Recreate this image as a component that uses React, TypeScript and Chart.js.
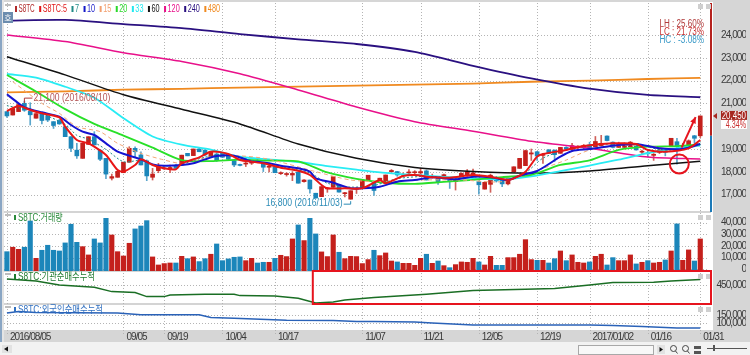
import React, { useEffect, useRef } from "react";
import { Chart, registerables } from "chart.js";

Chart.register(...registerables);

const tickIndex = [0, 20, 27, 37, 46, 61, 71, 81, 91, 100, 110, 119];
const tickText = ["2016/08/05", "09/05", "09/19", "10/04", "10/17", "11/07", "11/21", "12/05", "12/19", "2017/01/02", "01/16", "01/31"];

const candleOpen = [20640,20490,20640,21000,20650,20350,20600,20450,20200,20250,19980,19540,18950,18590,19200,19540,18950,18590,17720,17760,17960,18420,19030,18740,18480,17760,18050,18130,18110,18270,18300,18810,18710,19000,18950,18660,18780,18810,18690,18490,18310,18340,18380,18510,18340,18200,18220,17920,17880,17860,17980,17570,17640,17060,16910,17250,17320,17430,17040,16800,17240,17320,17640,17530,17530,17540,18000,18010,17850,17950,17960,17950,18040,17760,17790,17830,17640,17570,17790,17860,17800,17570,17240,17450,17740,17640,17470,18000,18150,18270,18780,18880,18720,18960,18950,18810,19070,18990,19080,19060,19180,19100,19150,19570,19300,19070,19070,19100,19180,18860,18830,18720,18850,18950,19100,19320,19000,19100,19580,19580];
const candleHigh = [20640,20800,21000,21100,21030,20550,20600,20500,20200,20300,20000,19540,19250,19250,19540,19760,18950,18590,17900,18020,18420,19100,19100,18880,18520,18150,18370,18200,18300,18300,18730,18810,19000,19030,18980,18900,18830,18830,18720,18500,18340,18500,18500,18560,18340,18300,18240,18000,17960,18010,18000,17660,17640,17060,17350,17320,17790,17450,17100,17170,17300,17640,17850,17530,17720,17860,18100,18020,17950,18100,18050,18150,18080,17900,17800,17900,17660,17680,17960,18100,18120,17600,17560,17900,17800,17660,17720,18220,18590,18950,19000,18900,18800,18980,18960,19070,19100,19250,19150,19200,19300,19550,19600,19580,19320,19300,19280,19330,19200,18950,18900,18800,19000,18980,19470,19470,19250,19400,19600,20450];
const candleLow = [20390,20490,20640,20650,20050,20350,20100,20200,19900,20080,19540,18880,18590,18590,19200,19180,18490,17700,17640,17760,17960,18420,18660,18300,17610,17640,17960,18100,17960,18150,18300,18700,18710,18880,18700,18660,18450,18620,18520,18230,18260,18230,18320,18420,18010,18000,17960,17880,17810,17610,17500,17540,17060,16850,16910,17100,17320,17110,16900,16800,17050,17320,17600,16960,17500,17540,17980,17800,17800,17900,17850,17900,17640,17720,17450,17750,17270,17200,17780,17800,17800,17020,17240,17100,17550,17350,17420,18000,18150,18270,18500,18500,18370,18800,18450,18810,18990,18900,19000,19000,19000,19080,19130,19350,19050,19070,19060,19100,18950,18800,18650,18500,18800,18700,19100,18340,19000,19100,19250,19500];
const candleClose = [20450,20780,20950,20700,20500,20550,20250,20270,20030,20100,19540,19030,18700,19250,19540,19180,18550,17900,17790,18020,18420,19030,18880,18300,17820,17900,18220,18170,18190,18150,18730,18700,19000,18880,18740,18880,18490,18640,18550,18300,18280,18380,18420,18450,18200,18240,17960,17960,17920,17930,17500,17640,17250,16850,17350,17290,17790,17110,17080,17170,17290,17640,17850,17180,17720,17860,18060,17860,17880,17990,18000,18010,17640,17800,17570,17870,17570,17640,17930,18010,17950,17430,17540,17850,17600,17470,17720,18220,18590,18930,18830,18690,18760,18810,18750,19070,19000,19150,19120,19150,19030,19330,19250,19370,19070,19250,19250,19300,18960,18900,18790,18770,18950,18860,19470,19100,19100,19360,19470,20450];

const volume = [15100,18900,17100,18900,41400,9400,16300,20600,16300,15700,22600,38600,23100,19400,12300,26000,22600,43700,29400,15100,11400,22300,34600,37100,41700,10600,3700,4900,5400,5400,11100,9100,10600,6600,9100,12900,21700,7400,8900,10300,10600,7400,9400,5400,6000,6000,9400,12000,10900,26000,38000,24600,43700,30300,14900,10900,29400,14600,9100,11100,10900,4900,8300,16300,11700,14000,7100,6300,5100,5100,3400,9400,12900,5100,7100,3100,1400,4000,6300,6000,9400,6300,3700,11100,3400,3400,10000,10000,12900,25400,8300,7700,7700,5400,9100,15700,7400,12300,6000,5400,6300,11100,12900,3700,10000,7400,7400,12300,4600,6000,7400,5400,6000,8000,15700,38900,7700,16600,7100,26000];

const ma5Idx = [0,2,4,6,9,10,12,14,15,17,19,20,22,23,25,27,29,30,33,35,38,40,42,44,47,50,52,54,55,58,61,64,65,68,70,73,76,80,83,86,87,89,91,92,96,99,104,108,110,113,117,119];
const ma5 = [20667,20886,20711,20564,20389,19980,19395,19248,19102,18737,18079,18006,18298,18547,18298,18152,18108,18371,18634,18883,18781,18518,18444,18371,18181,18050,17860,17421,17275,17275,17275,17640,17494,17816,17860,17757,17743,17860,17786,17640,17713,18006,18664,18781,18956,19131,19248,19219,18956,18883,19029,19395];
const ma7Idx = [0,5,10,12,14,17,20,23,26,30,34,38,42,47,52,55,59,63,67,72,77,82,86,89,92,96,100,104,108,112,116,119];
const ma7 = [20900,20640,20080,19600,19430,18980,18440,18500,18250,18340,18640,18760,18500,18230,17950,17500,17330,17400,17700,17800,17720,17790,17640,17950,18600,18960,19140,19230,19230,18980,18990,19280];
const ma10Idx = [0,2,3,6,9,11,13,15,17,19,21,23,25,27,30,32,34,36,39,42,43,45,47,50,52,53,56,59,61,64,67,70,73,77,80,83,86,88,91,95,97,100,104,108,112,116,119];
const ma10 = [21398,21000,20827,20608,20418,20053,19760,19614,19248,18883,18708,18547,18327,18269,18298,18371,18547,18693,18708,18444,18444,18371,18269,18152,18006,17713,17523,17275,17275,17348,17567,17640,17757,17670,17786,17757,17640,17830,18035,18664,18912,19000,19146,19219,19029,19000,19219];
const ma15Idx = [1,6,9,12,16,19,23,27,30,35,40,45,53,59,65,70,78,85,92,96,100,105,110,115,119];
const ma15 = [21953,21003,20564,19980,19760,19248,18810,18518,18371,18664,18700,18550,18006,17640,17567,17640,17640,17570,18150,18518,18956,19146,19146,18956,19175];
const ma20Idx = [0,5,10,15,20,25,30,35,40,45,50,55,60,65,70,75,80,85,90,95,100,105,110,115,119];
const ma20 = [22245,21520,20750,20100,19590,19060,18510,18470,18530,18490,18460,17970,17690,17520,17470,17560,17650,17770,17870,18300,18500,18960,19100,19130,19200];
const ma33 = [22290,22130,21730,21250,20350,19550,19190,18970,18660,18540,18430,18250,18100,17950,17860,17780,17720,17660,17800,18030,18275,18530,18820,19040,19150];
const longIdx = [0,10,20,30,40,50,60,70,80,90,100,110,119];
const ma60 = [23050,22250,21380,20740,20100,19220,18590,18190,18015,17940,18040,18270,18460];
const ma120 = [24000,23710,23220,22840,22300,21590,20840,20200,19780,19340,19030,18650,18560];
const ma240 = [24630,24660,24480,24300,24040,23810,23605,23260,22650,22100,21650,21370,21270];
const ma480 = [21480,21530,21600,21640,21695,21735,21780,21825,21870,21950,22000,22070,22120];

const instIdx = [0,5,9,15,18,22,24,27,28,34,39,40,46,50,53,56,58,63,72,80,89,94,100,104,111,114,119];
const inst = [490000,476700,450000,434400,405600,398900,372200,372200,383300,387800,387800,378900,376700,361100,330000,336700,350000,365600,387800,412200,421100,425600,450000,465600,467800,476700,485600];
const foreignIdx = [0,2,5,19,23,33,35,39,48,56,60,63,70,73,80,100,104,109,115,119];
const foreign = [160000,170000,164000,160000,150000,150000,134000,130000,118000,116000,110000,110000,108000,102000,90000,90000,86000,80000,72000,72000];

const legendNames = ["S8TC", "S8TC:5", "7", "10", "15", "20", "33", "60", "120", "240", "480"];
const legendColors = ["#b02a2a", "#e01818", "#1f8a86", "#1418c8", "#f2a070", "#28d828", "#20e8f0", "#111111", "#e8108a", "#2a1080", "#f08a20"];
const mainTicks = [17000, 18000, 19000, 20000, 21000, 22000, 23000, 24000];
const volTicks = [0, 10000, 20000, 30000, 40000];
const instTicks = [450000];
const foreignTicks = [100000, 150000];
const statLines = ["LH : 25.60%", "LC : 21.73%", "HC : -3.08%"];
const statColors = ["#b03a3a", "#c83030", "#3a9ac8"];
const highNote = "21,100 (2016/08/10)";
const lowNote = "16,800 (2016/11/03)";
const lastPrice = 20450;
const lastPct = "4.34%";
const paneTitles = ["S8TC:거래량", "S8TC:기관순매수누적", "S8TC:외국인순매수누적"];
const paneTitleColors = ["#2a8a3a", "#1e7a2e", "#2f6fc0"];

const FONT = '"Liberation Sans", "Noto Sans CJK KR", sans-serif';
const TICK_SPACING = "-0.95px";
const CELL = 4.05;
const GRID = "#b4b4b4";
const UP = "#c4201c";
const DOWN = "#1c86ba";
const SLOTS = 121;

const labels = Array.from({ length: SLOTS }, (_, i) => {
  const k = tickIndex.indexOf(i);
  return k >= 0 ? tickText[k] : "";
});
const sparse = (idx: number[], vals: number[]) => {
  const out: (number | null)[] = Array(SLOTS).fill(null);
  idx.forEach((p, k) => { out[p] = vals[k]; });
  return out;
};
const isUp = (i: number) => candleClose[i] >= candleOpen[i];
const fmt = (v: number) => v.toLocaleString("en-US");
const cells = (s: string) => [...s].reduce((n, ch) => n + (ch.charCodeAt(0) > 0x2000 ? 2 : 1), 0);
const textW = (s: string) => cells(s) * CELL;

const decor = {
  id: "decor",
  beforeDraw(chart: any) {
    const c = chart.ctx;
    c.letterSpacing = TICK_SPACING;
    c.save();
    c.fillStyle = "#ffffff";
    c.fillRect(0, 0, 750, 355);
    c.fillStyle = "#d6d6d6";
    c.fillRect(713, 2, 37, 340);
    c.fillRect(3, 330, 710, 12);
    c.fillRect(0, 0, 750, 2);
    c.fillStyle = "#f2f2f2";
    c.fillRect(0, 342, 750, 13);
    c.fillStyle = "#8aa6c4";
    c.fillRect(0, 0, 2, 342);
    c.fillStyle = "#e4e4e4";
    c.fillRect(2, 0, 2, 342);
    c.restore();
  },
  beforeDatasetsDraw(chart: any) {
    const c = chart.ctx;
    const { x, yMain, yVol, yInst, yForeign } = chart.scales;
    c.save();
    c.fillStyle = "#d4d4d4";
    [yVol.top, yInst.top, yForeign.top].forEach((y: number) => c.fillRect(4, y - 1, 707, 2));
    c.strokeStyle = GRID;
    c.lineWidth = 1;
    c.setLineDash([1, 2]);
    c.beginPath();
    [yMain, yVol, yInst, yForeign].forEach((s: any) => {
      s.ticks.forEach((t: any) => {
        const py = Math.round(s.getPixelForValue(t.value)) + 0.5;
        c.moveTo(4, py);
        c.lineTo(709, py);
      });
    });
    x.ticks.forEach((t: any) => {
      const px = Math.round(x.getPixelForValue(t.value)) + 0.5;
      c.moveTo(px, 3);
      c.lineTo(px, 334);
    });
    c.stroke();
    c.restore();
  },
  afterDraw(chart: any) {
    const c = chart.ctx;
    const { x, yMain, yVol, yInst, yForeign } = chart.scales;
    const arrowHead = (tx: number, ty: number, ang: number, len: number, col: string) => {
      c.fillStyle = col;
      c.beginPath();
      c.moveTo(tx, ty);
      c.lineTo(tx - len * Math.cos(ang - 0.45), ty - len * Math.sin(ang - 0.45));
      c.lineTo(tx - len * Math.cos(ang + 0.45), ty - len * Math.sin(ang + 0.45));
      c.closePath();
      c.fill();
    };
    const put = (s: string, px: number, py: number) => c.fillText(s, px, py, textW(s));
    c.save();
    c.letterSpacing = "0px";
    c.textBaseline = "middle";
    c.font = `10px ${FONT}`;

    // legend row
    let lx = 15;
    legendNames.forEach((n, i) => {
      c.fillStyle = legendColors[i];
      c.fillRect(lx, 6, 2, 6);
      put(n, lx + 3.5, 9);
      lx += 3.5 + textW(n) + 4.5;
    });

    // right axis rule
    const splitY = yMain.getPixelForValue(candleOpen[119]);
    c.fillStyle = "#b5221e";
    c.fillRect(710, 3, 2, splitY - 3);
    c.fillStyle = "#1c7ab8";
    c.fillRect(710, splitY, 2, yVol.top - splitY);

    // pane titles
    [yVol, yInst, yForeign].forEach((s: any, i: number) => {
      c.fillStyle = "#bdbdbd";
      c.fillRect(5, s.top + 2, 6, 2);
      c.fillStyle = paneTitleColors[i];
      c.fillRect(14, s.top + 3, 2, 5);
      put(paneTitles[i], 18, s.top + 6.5);
      c.fillStyle = "#cfcfcf";
      c.fillRect(698, s.top + 3, 5, 5);
      c.fillRect(706, s.top + 3, 5, 5);
    });
    c.fillStyle = "#cfcfcf";
    c.fillRect(698, 4, 5, 5);
    c.fillRect(706, 4, 5, 5);
    c.fillStyle = "#bdbdbd";
    c.fillRect(5, 4, 6, 2);
    c.fillStyle = "#6b8cae";
    c.fillRect(3, 12, 10, 11);
    c.fillStyle = "#ffffff";
    c.font = `8px "Noto Sans CJK KR", sans-serif`;
    c.textAlign = "center";
    c.fillText("호", 8, 18);
    c.textAlign = "left";
    c.font = `10px ${FONT}`;

    // stats
    c.textAlign = "right";
    statLines.forEach((t, i) => {
      c.fillStyle = statColors[i];
      put(t, 704, 24 + i * 8);
    });
    c.textAlign = "left";

    // high / low notes
    const hx = x.getPixelForValue(3);
    const hy = yMain.getPixelForValue(21100) - 3;
    c.strokeStyle = "#b03a3a";
    c.lineWidth = 1;
    c.beginPath();
    c.moveTo(hx + 8, hy);
    c.lineTo(hx, hy);
    c.lineTo(hx, hy + 5);
    c.stroke();
    c.fillStyle = "#b45454";
    put(highNote, hx + 9, hy);
    const lx2 = x.getPixelForValue(59);
    const ly = yMain.getPixelForValue(16800);
    c.fillStyle = "#2a8ab5";
    c.textAlign = "right";
    put(lowNote, lx2 - 8, ly + 4);
    c.textAlign = "left";
    c.strokeStyle = "#2a8ab5";
    c.beginPath();
    c.moveTo(lx2 - 7, ly + 5);
    c.lineTo(lx2, ly + 5);
    c.lineTo(lx2, ly + 2);
    c.stroke();

    // red call-outs
    c.strokeStyle = "#e6141e";
    c.lineWidth = 2;
    const ax0 = x.getPixelForValue(115.8);
    const ay0 = yMain.getPixelForValue(19060);
    const ax1 = x.getPixelForValue(118.2);
    const ay1 = yMain.getPixelForValue(20400);
    c.beginPath();
    c.moveTo(ax0, ay0);
    c.lineTo(ax1, ay1);
    c.stroke();
    arrowHead(ax1, ay1, Math.atan2(ay1 - ay0, ax1 - ax0), 7, "#e6141e");
    c.beginPath();
    c.arc(x.getPixelForValue(115.4), yMain.getPixelForValue(18340), 9.5, 0, Math.PI * 2);
    c.stroke();
    const rx = x.getPixelForValue(52.5);
    c.strokeRect(rx, yInst.top, 711 - rx, yInst.bottom - yInst.top);

    // price tag
    const py = yMain.getPixelForValue(lastPrice);
    c.fillStyle = "#a62820";
    c.beginPath();
    c.moveTo(713, py);
    c.lineTo(717, py - 3);
    c.lineTo(717, py + 3);
    c.closePath();
    c.fill();
    c.fillRect(721, py - 5, 26, 9);
    c.fillStyle = "#ffffff";
    c.fillRect(721, py + 4, 26, 9);
    c.textAlign = "right";
    put(fmt(lastPrice), 746, py);
    c.fillStyle = "#c83030";
    put(lastPct, 746, py + 9);
    c.textAlign = "left";

    // bottom tool bar
    c.fillStyle = "#e2e2e2";
    c.fillRect(2, 345, 10, 8);
    c.fillStyle = "#111111";
    c.beginPath();
    c.moveTo(4, 349);
    c.lineTo(8, 346.5);
    c.lineTo(8, 351.5);
    c.closePath();
    c.fill();
    c.fillStyle = "#f8f8f8";
    c.fillRect(578, 345, 75, 9);
    c.strokeStyle = "#a8a8a8";
    c.lineWidth = 1;
    c.strokeRect(578.5, 345.5, 75, 9);
    c.fillStyle = "#e2e2e2";
    c.fillRect(657, 345, 8, 9);
    c.fillStyle = "#111111";
    c.beginPath();
    c.moveTo(663, 349.5);
    c.lineTo(659.5, 347);
    c.lineTo(659.5, 352);
    c.closePath();
    c.fill();
    c.strokeStyle = "#444444";
    [673.5, 685.5].forEach((mx) => {
      c.beginPath();
      c.arc(mx, 348.5, 3, 0, Math.PI * 2);
      c.moveTo(mx + 2, 351);
      c.lineTo(mx + 4, 353.5);
      c.stroke();
    });
    c.fillStyle = "#555555";
    c.fillRect(694, 346, 7, 3);
    c.fillRect(694, 351, 7, 3);
    c.fillRect(707, 348, 40, 1);
    c.fillRect(713, 345, 2, 6);
    c.restore();
  },
};

const barCommon = { type: "bar" as const, grouped: false };
const lineDs = (label: string, data: (number | null)[], color: string, width: number, dash?: number[], tension = 0.25) => ({
  type: "line" as const,
  label,
  data,
  borderColor: color,
  borderWidth: width,
  borderDash: dash || [],
  pointRadius: 0,
  spanGaps: true,
  tension,
  yAxisID: "yMain",
  order: 0,
});

const axisBase = (weight: number, stackWeight: number, min: number, max: number, values: number[], hide?: number) => ({
  type: "linear" as const,
  position: "right" as const,
  stack: "panes",
  stackWeight,
  weight,
  min,
  max,
  afterBuildTicks: (s: any) => { s.ticks = values.map((value) => ({ value })); },
  afterFit: (s: any) => { s.width = 37; },
  border: { display: false },
  grid: { display: false, drawTicks: false },
  ticks: {
    autoSkip: false,
    padding: 1,
    crossAlign: "far" as const,
    color: "#3a3a3a",
    font: { family: FONT, size: 10 },
    callback: (v: any) => (v === hide ? "" : fmt(Number(v))),
  },
});

export default function App() {
  const ref = useRef<HTMLCanvasElement>(null);
  useEffect(() => {
    document.body.style.margin = "0";
    const chart = new Chart(ref.current as HTMLCanvasElement, {
      type: "bar",
      data: {
        labels,
        datasets: [
          lineDs("5", sparse(ma5Idx, ma5), "#e81616", 2),
          lineDs("10", sparse(ma10Idx, ma10), "#1414d0", 2),
          lineDs("7", sparse(ma7Idx, ma7), "#1f8a86", 1, [2, 2]),
          lineDs("15", sparse(ma15Idx, ma15), "#f2a878", 1, [4, 3]),
          lineDs("20", sparse(ma20Idx, ma20), "#28e028", 1.8),
          lineDs("33", sparse(ma20Idx, ma33), "#28ecf4", 1.8),
          lineDs("60", sparse(longIdx, ma60), "#111111", 1.5),
          lineDs("120", sparse(longIdx, ma120), "#e8108a", 1.5),
          lineDs("240", sparse(longIdx, ma240), "#2a1080", 1.8),
          lineDs("480", sparse(longIdx, ma480), "#f08a20", 1.8),
          {
            ...barCommon,
            label: "body",
            data: candleOpen.map((o, i) => [o, candleClose[i]]),
            backgroundColor: candleOpen.map((_, i) => (isUp(i) ? UP : DOWN)),
            barThickness: 4,
            minBarLength: 1,
            yAxisID: "yMain",
            order: 1,
          },
          {
            ...barCommon,
            label: "wick",
            data: candleLow.map((l, i) => [l, candleHigh[i]]),
            backgroundColor: candleOpen.map((_, i) => (isUp(i) ? "#d0605a" : "#5aa6cc")),
            barThickness: 1,
            yAxisID: "yMain",
            order: 2,
          },
          {
            ...barCommon,
            label: "volume",
            data: volume,
            base: -1460,
            backgroundColor: volume.map((_, i) => (isUp(i) ? UP : DOWN)),
            barThickness: 4.5,
            yAxisID: "yVol",
            order: 3,
          },
          {
            type: "line",
            label: "inst",
            data: sparse(instIdx, inst),
            borderColor: "#1a6e24",
            borderWidth: 1.5,
            pointRadius: 0,
            spanGaps: true,
            yAxisID: "yInst",
            order: 0,
          },
          {
            type: "line",
            label: "foreign",
            data: sparse(foreignIdx, foreign),
            borderColor: "#2a62b8",
            borderWidth: 1.5,
            pointRadius: 0,
            spanGaps: true,
            yAxisID: "yForeign",
            order: 0,
          },
        ] as any,
      },
      options: {
        responsive: false,
        animation: false,
        layout: { padding: { top: 14, left: 4, right: 4, bottom: 13 } },
        plugins: { legend: { display: false }, tooltip: { enabled: false } },
        scales: {
          x: {
            type: "category",
            offset: true,
            afterBuildTicks: (s: any) => { s.ticks = tickIndex.map((value) => ({ value })); },
            afterFit: (s: any) => { s.height = 12; },
            border: { display: false },
            grid: { display: false, offset: false, drawTicks: false },
            ticks: {
              autoSkip: false,
              maxRotation: 0,
              align: "start",
              labelOffset: 3,
              padding: 1,
              color: "#3a3a3a",
              font: { family: FONT, size: 10 },
            },
          },
          yMain: axisBase(1, 198, 16237, 24921, mainTicks, 20000),
          yVol: axisBase(2, 59, -1460, 49100, volTicks),
          yInst: axisBase(3, 33, 323000, 543000, instTicks),
          yForeign: axisBase(4, 26, 60000, 214000, foreignTicks),
        } as any,
      },
      plugins: [decor],
    });
    return () => chart.destroy();
  }, []);
  return (
    <div style={{ position: "fixed", left: 0, top: 0, width: 750, height: 355 }}>
      <canvas ref={ref} width={750} height={355} style={{ display: "block" }} />
    </div>
  );
}
